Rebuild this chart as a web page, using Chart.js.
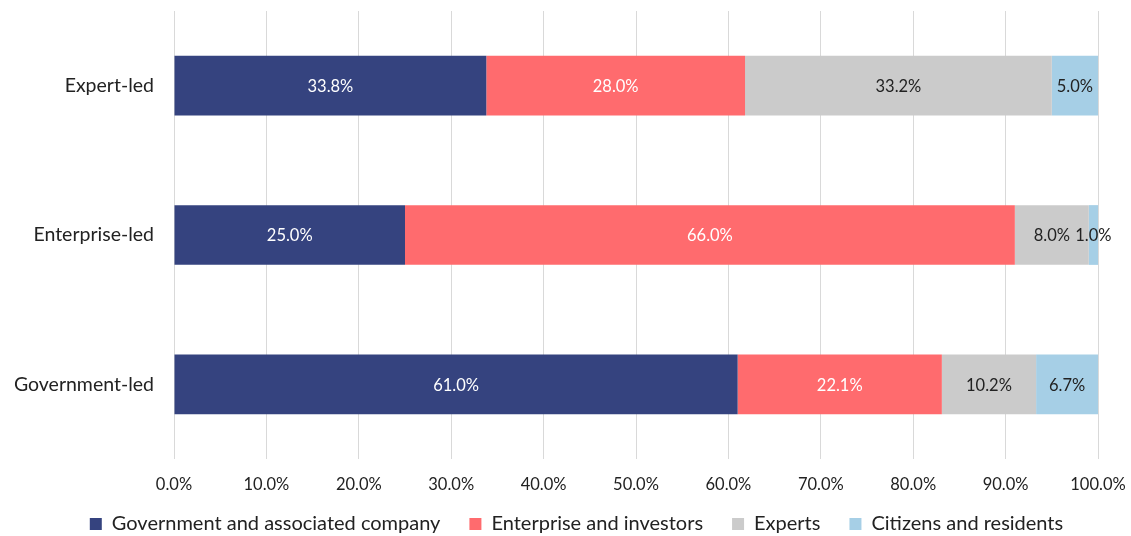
<!DOCTYPE html>
<html>
<head>
<meta charset="utf-8">
<script src="https://cdn.jsdelivr.net/npm/chart.js@4/dist/chart.umd.min.js"></script>
<style>
  html, body { margin: 0; padding: 0; background: #ffffff; }
  #wrap { width: 1131px; height: 536px; position: relative; }
</style>
</head>
<body>
<div id="wrap"><canvas id="chart" width="1131" height="536"></canvas></div>
<script>
// Categories and stakeholder shares (%) per governance model
const categories = ['Expert-led', 'Enterprise-led', 'Government-led'];
const governmentShare = [33.8, 25.0, 61.0];
const enterpriseShare = [28.0, 66.0, 22.1];
const expertsShare = [33.2, 8.0, 10.2];
const citizensShare = [5.0, 1.0, 6.7];
const seriesNames = ['Government and associated company', 'Enterprise and investors', 'Experts', 'Citizens and residents'];
const xTicks = [0, 10, 20, 30, 40, 50, 60, 70, 80, 90, 100];

const colors = ['#35437f', '#ff6b6e', '#cbcbcb', '#a6cfe6'];
const labelColors = ['#ffffff', '#ffffff', '#222222', '#222222'];
const FONT = 'Lato, "Open Sans", sans-serif';

// Draws the value of each segment centred inside it
const segmentLabels = {
  id: 'segmentLabels',
  afterDatasetsDraw(chart) {
    const ctx = chart.ctx;
    ctx.save();
    ctx.font = '16.5px ' + FONT;
    ctx.textAlign = 'center';
    ctx.textBaseline = 'middle';
    chart.data.datasets.forEach((ds, di) => {
      const meta = chart.getDatasetMeta(di);
      meta.data.forEach((bar, i) => {
        const v = ds.data[i];
        const cx = (bar.x + bar.base) / 2;
        ctx.fillStyle = labelColors[di];
        ctx.fillText(v.toFixed(1) + '%', cx, bar.y + 1);
      });
    });
    ctx.restore();
  }
};

// Lets the x tick labels overhang the compact axis box without being clipped
const tickRoom = {
  id: 'tickRoom',
  afterLayout(chart) {
    chart.scales.x.bottom += 14;
  }
};

new Chart(document.getElementById('chart'), {
  type: 'bar',
  data: {
    labels: categories,
    datasets: [governmentShare, enterpriseShare, expertsShare, citizensShare].map((d, i) => ({
      label: seriesNames[i],
      data: d,
      backgroundColor: colors[i],
      borderWidth: 0,
      categoryPercentage: 1.0,
      barPercentage: 0.4
    }))
  },
  options: {
    indexAxis: 'y',
    responsive: false,
    animation: false,
    layout: { padding: { left: 2, right: -20, top: 11, bottom: -8 } },
    scales: {
      x: {
        stacked: true,
        min: 0,
        max: 100,
        afterBuildTicks(axis) { axis.ticks = xTicks.map(v => ({ value: v })); },
        ticks: {
          callback: v => v.toFixed(1) + '%',
          color: '#222222',
          font: { family: FONT, size: 16.5 },
          padding: 16,
          maxRotation: 0
        },
        grid: { color: '#d9d9d9', lineWidth: 1, drawTicks: false },
        border: { display: false },
        afterFit(axis) {
          axis.paddingLeft = 0;
          axis.paddingRight = 33;
          axis.height = 26;
        }
      },
      y: {
        stacked: true,
        ticks: {
          color: '#222222',
          font: { family: FONT, size: 19.5 },
          padding: 20
        },
        grid: { display: false, drawTicks: false },
        border: { display: false },
        afterFit(axis) {
          axis.width = 172;
          axis.paddingTop = 0;
          axis.paddingBottom = 0;
        }
      }
    },
    plugins: {
      legend: {
        position: 'bottom',
        labels: {
          boxWidth: 12,
          boxHeight: 12,
          padding: 29,
          color: '#222222',
          font: { family: FONT, size: 20 }
        }
      },
      tooltip: { enabled: false }
    }
  },
  plugins: [segmentLabels, tickRoom]
});
</script>
</body>
</html>
